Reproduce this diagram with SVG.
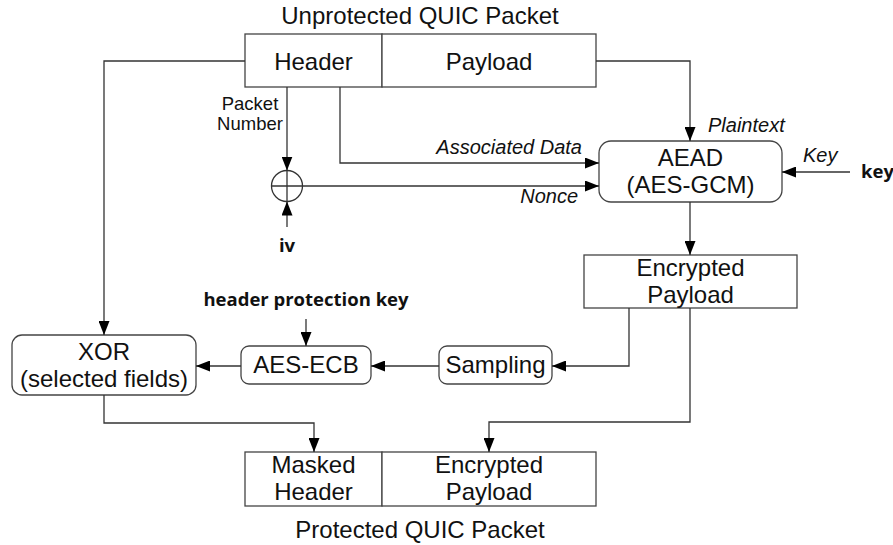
<svg xmlns="http://www.w3.org/2000/svg" width="893" height="545" viewBox="0 0 893 545">
<style>
.box{fill:#fff;stroke:#444;stroke-width:1.3}
.ln{fill:none;stroke:#333;stroke-width:1.3}
.t{font-family:"Liberation Sans",Arial,sans-serif;font-size:24px;fill:#111;text-anchor:middle}
.s{font-family:"Liberation Sans",Arial,sans-serif;font-size:18.5px;fill:#111;text-anchor:middle}
.i{font-family:"Liberation Sans",Arial,sans-serif;font-size:20px;font-style:italic;fill:#111}
.b{font-family:"Open Sans","Noto Sans",sans-serif;font-size:18.5px;font-weight:700;fill:#111}
</style>
<defs>
<marker id="arr" viewBox="0 0 14 11" refX="14" refY="5.5" markerWidth="14" markerHeight="11" markerUnits="userSpaceOnUse" orient="auto">
<path d="M0,0 L14,5.5 L0,11 z" fill="#000"/>
</marker>
</defs>
<text class="t" x="420" y="24">Unprotected QUIC Packet</text>
<g id="unprotected-header"><rect class="box" x="245" y="34" width="137" height="53"/><text class="t" x="313.5" y="70">Header</text></g>
<g id="unprotected-payload"><rect class="box" x="382" y="34" width="214" height="53"/><text class="t" x="489" y="70">Payload</text></g>
<g id="xor-nonce"><circle class="ln" cx="287" cy="186" r="15.5" fill="#fff"/><path class="ln" d="M271.5,186 H302.5 M287,170.5 V201.5"/></g>
<g id="aead"><rect class="box" x="599" y="141" width="183" height="61" rx="12"/><text class="t" x="690.5" y="166">AEAD</text><text class="t" x="690.5" y="193">(AES-GCM)</text></g>
<g id="encrypted-payload"><rect class="box" x="584" y="255" width="213" height="53"/><text class="t" x="690.5" y="276">Encrypted</text><text class="t" x="690.5" y="303">Payload</text></g>
<g id="xor-fields"><rect class="box" x="12" y="335" width="184" height="60" rx="10"/><text class="t" x="104" y="360">XOR</text><text class="t" x="104" y="387">(selected fields)</text></g>
<g id="aes-ecb"><rect class="box" x="241" y="346" width="130" height="38" rx="8"/><text class="t" x="306" y="373">AES-ECB</text></g>
<g id="sampling"><rect class="box" x="439" y="346" width="113" height="38" rx="8"/><text class="t" x="495.5" y="373">Sampling</text></g>
<g id="masked-header"><rect class="box" x="245" y="452" width="137" height="54"/><text class="t" x="313.5" y="473">Masked</text><text class="t" x="313.5" y="500">Header</text></g>
<g id="protected-payload"><rect class="box" x="382" y="452" width="214" height="54"/><text class="t" x="489" y="473">Encrypted</text><text class="t" x="489" y="500">Payload</text></g>
<text class="t" x="420" y="538">Protected QUIC Packet</text>
<g id="connectors">
<path class="ln" d="M245,61 H104 V335" marker-end="url(#arr)"/>
<path class="ln" d="M596,61 H690 V141" marker-end="url(#arr)"/>
<path class="ln" d="M287,87 V170.5" marker-end="url(#arr)"/>
<path class="ln" d="M287,227 V201.5" marker-end="url(#arr)"/>
<path class="ln" d="M340,87 V163 H599" marker-end="url(#arr)"/>
<path class="ln" d="M302.5,186 H599" marker-end="url(#arr)"/>
<path class="ln" d="M850,172 H782" marker-end="url(#arr)"/>
<path class="ln" d="M690,202 V255" marker-end="url(#arr)"/>
<path class="ln" d="M629,308 V366 H552" marker-end="url(#arr)"/>
<path class="ln" d="M439,366 H371" marker-end="url(#arr)"/>
<path class="ln" d="M241,366 H196" marker-end="url(#arr)"/>
<path class="ln" d="M306,319 V346" marker-end="url(#arr)"/>
<path class="ln" d="M104,395 V423 H314 V452" marker-end="url(#arr)"/>
<path class="ln" d="M690,308 V422 H489 V452" marker-end="url(#arr)"/>
</g>
<g id="labels">
<text class="s" x="250" y="110">Packet</text>
<text class="s" x="250" y="130">Number</text>
<text class="i" x="582" y="154" text-anchor="end">Associated Data</text>
<text class="i" x="578" y="203" text-anchor="end">Nonce</text>
<text class="i" x="708" y="132">Plaintext</text>
<text class="i" x="803" y="162">Key</text>
<text class="b" x="861" y="178">key</text>
<text class="b" x="287" y="252" text-anchor="middle">iv</text>
<text class="b" x="306" y="306" text-anchor="middle">header protection key</text>
</g>
</svg>
